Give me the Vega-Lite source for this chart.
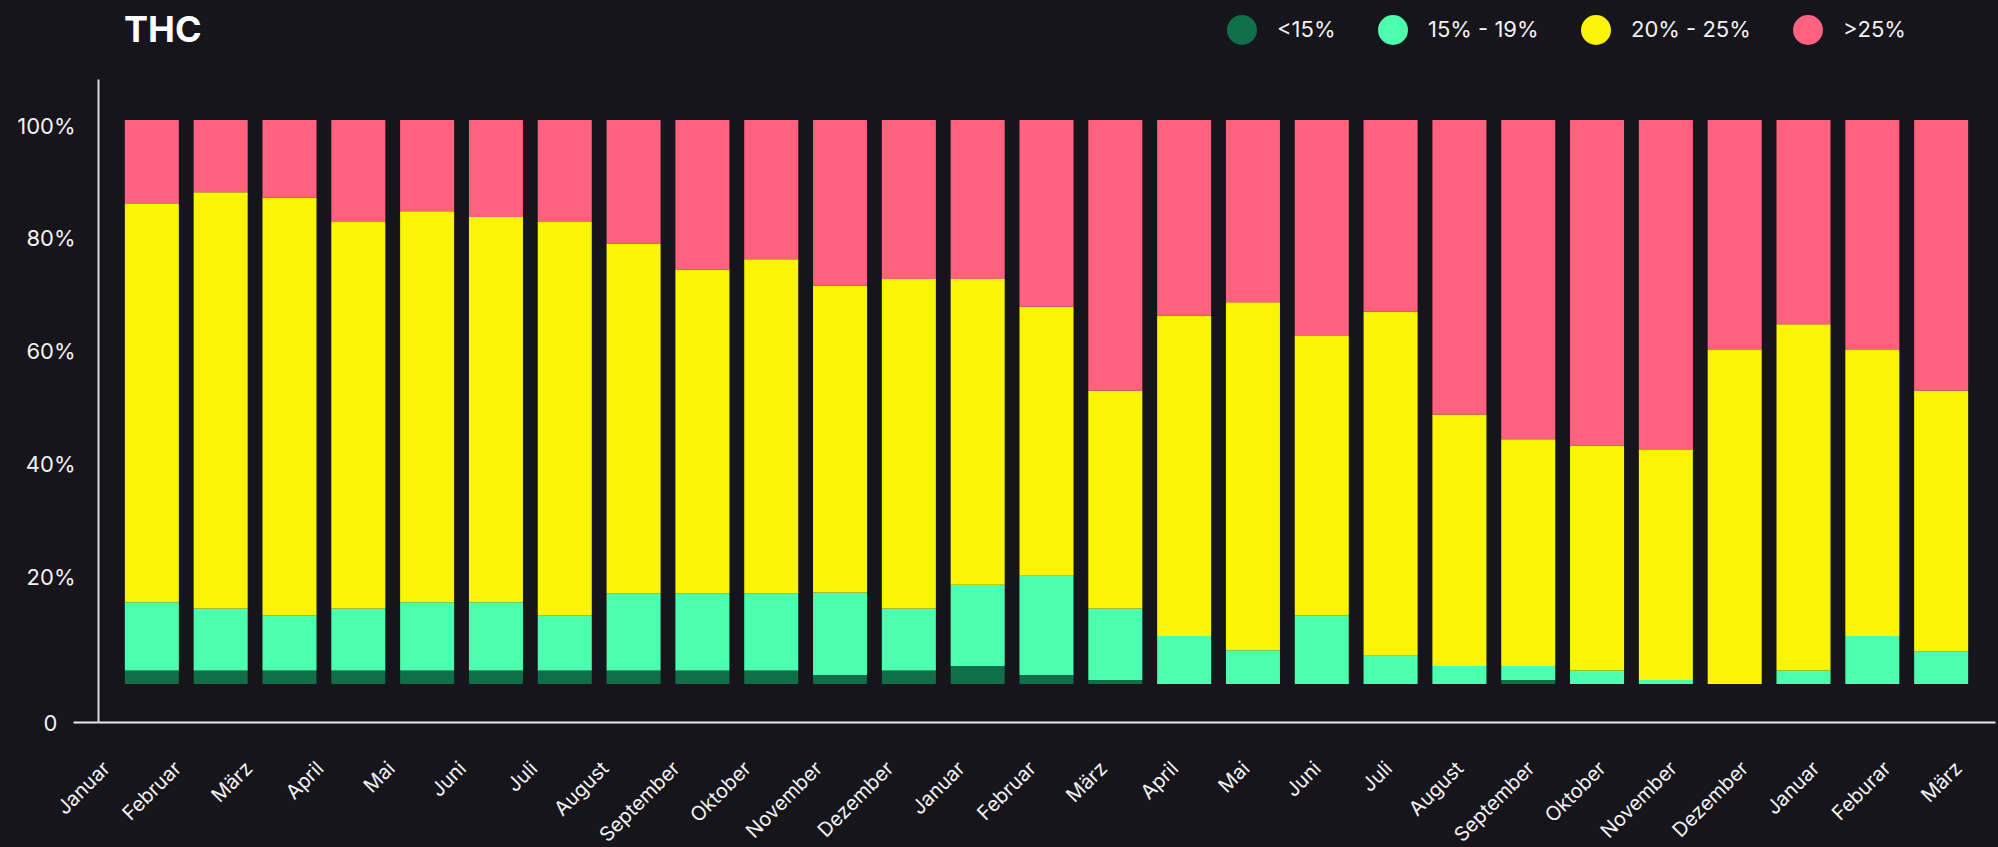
{
  "$schema": "https://vega.github.io/schema/vega-lite/v6.json",
  "background": "#16151b",
  "autosize": {"type": "none"},
  "padding": {"left": 98, "top": 79, "right": 3, "bottom": 125},
  "width": 1897,
  "height": 643,
  "title": {"text": "THC", "anchor": "start", "frame": "group", "font": "Inter", "fontSize": 36, "fontWeight": "bold", "color": "#ffffff", "dx": 26, "offset": -63, "baseline": "alphabetic"},
  "config": {"view": {"stroke": null}, "font": "Inter"},
  "data": {"values": [
    {"i":0,"k":"<15%","o":1,"v":2.4},{"i":0,"k":"15% - 19%","o":2,"v":12.1},{"i":0,"k":"20% - 25%","o":3,"v":70.6},{"i":0,"k":">25%","o":4,"v":14.9},
    {"i":1,"k":"<15%","o":1,"v":2.4},{"i":1,"k":"15% - 19%","o":2,"v":11.0},{"i":1,"k":"20% - 25%","o":3,"v":73.8},{"i":1,"k":">25%","o":4,"v":12.8},
    {"i":2,"k":"<15%","o":1,"v":2.4},{"i":2,"k":"15% - 19%","o":2,"v":9.8},{"i":2,"k":"20% - 25%","o":3,"v":74.0},{"i":2,"k":">25%","o":4,"v":13.8},
    {"i":3,"k":"<15%","o":1,"v":2.4},{"i":3,"k":"15% - 19%","o":2,"v":11.0},{"i":3,"k":"20% - 25%","o":3,"v":68.5},{"i":3,"k":">25%","o":4,"v":18.1},
    {"i":4,"k":"<15%","o":1,"v":2.4},{"i":4,"k":"15% - 19%","o":2,"v":12.1},{"i":4,"k":"20% - 25%","o":3,"v":69.3},{"i":4,"k":">25%","o":4,"v":16.2},
    {"i":5,"k":"<15%","o":1,"v":2.4},{"i":5,"k":"15% - 19%","o":2,"v":12.1},{"i":5,"k":"20% - 25%","o":3,"v":68.3},{"i":5,"k":">25%","o":4,"v":17.2},
    {"i":6,"k":"<15%","o":1,"v":2.4},{"i":6,"k":"15% - 19%","o":2,"v":9.8},{"i":6,"k":"20% - 25%","o":3,"v":69.7},{"i":6,"k":">25%","o":4,"v":18.1},
    {"i":7,"k":"<15%","o":1,"v":2.4},{"i":7,"k":"15% - 19%","o":2,"v":13.7},{"i":7,"k":"20% - 25%","o":3,"v":62.0},{"i":7,"k":">25%","o":4,"v":21.9},
    {"i":8,"k":"<15%","o":1,"v":2.4},{"i":8,"k":"15% - 19%","o":2,"v":13.7},{"i":8,"k":"20% - 25%","o":3,"v":57.4},{"i":8,"k":">25%","o":4,"v":26.5},
    {"i":9,"k":"<15%","o":1,"v":2.4},{"i":9,"k":"15% - 19%","o":2,"v":13.7},{"i":9,"k":"20% - 25%","o":3,"v":59.2},{"i":9,"k":">25%","o":4,"v":24.7},
    {"i":10,"k":"<15%","o":1,"v":1.6},{"i":10,"k":"15% - 19%","o":2,"v":14.6},{"i":10,"k":"20% - 25%","o":3,"v":54.4},{"i":10,"k":">25%","o":4,"v":29.4},
    {"i":11,"k":"<15%","o":1,"v":2.4},{"i":11,"k":"15% - 19%","o":2,"v":11.0},{"i":11,"k":"20% - 25%","o":3,"v":58.4},{"i":11,"k":">25%","o":4,"v":28.2},
    {"i":12,"k":"<15%","o":1,"v":3.2},{"i":12,"k":"15% - 19%","o":2,"v":14.4},{"i":12,"k":"20% - 25%","o":3,"v":54.2},{"i":12,"k":">25%","o":4,"v":28.2},
    {"i":13,"k":"<15%","o":1,"v":1.6},{"i":13,"k":"15% - 19%","o":2,"v":17.6},{"i":13,"k":"20% - 25%","o":3,"v":47.7},{"i":13,"k":">25%","o":4,"v":33.1},
    {"i":14,"k":"<15%","o":1,"v":0.7},{"i":14,"k":"15% - 19%","o":2,"v":12.7},{"i":14,"k":"20% - 25%","o":3,"v":38.6},{"i":14,"k":">25%","o":4,"v":48.0},
    {"i":15,"k":"15% - 19%","o":2,"v":8.5},{"i":15,"k":"20% - 25%","o":3,"v":56.8},{"i":15,"k":">25%","o":4,"v":34.7},
    {"i":16,"k":"15% - 19%","o":2,"v":6.0},{"i":16,"k":"20% - 25%","o":3,"v":61.7},{"i":16,"k":">25%","o":4,"v":32.3},
    {"i":17,"k":"15% - 19%","o":2,"v":12.2},{"i":17,"k":"20% - 25%","o":3,"v":49.5},{"i":17,"k":">25%","o":4,"v":38.3},
    {"i":18,"k":"15% - 19%","o":2,"v":5.0},{"i":18,"k":"20% - 25%","o":3,"v":61.0},{"i":18,"k":">25%","o":4,"v":34.0},
    {"i":19,"k":"15% - 19%","o":2,"v":3.2},{"i":19,"k":"20% - 25%","o":3,"v":44.6},{"i":19,"k":">25%","o":4,"v":52.2},
    {"i":20,"k":"<15%","o":1,"v":0.7},{"i":20,"k":"15% - 19%","o":2,"v":2.5},{"i":20,"k":"20% - 25%","o":3,"v":40.2},{"i":20,"k":">25%","o":4,"v":56.6},
    {"i":21,"k":"15% - 19%","o":2,"v":2.4},{"i":21,"k":"20% - 25%","o":3,"v":39.9},{"i":21,"k":">25%","o":4,"v":57.7},
    {"i":22,"k":"15% - 19%","o":2,"v":0.7},{"i":22,"k":"20% - 25%","o":3,"v":40.8},{"i":22,"k":">25%","o":4,"v":58.5},
    {"i":23,"k":"20% - 25%","o":3,"v":59.2},{"i":23,"k":">25%","o":4,"v":40.8},
    {"i":24,"k":"15% - 19%","o":2,"v":2.4},{"i":24,"k":"20% - 25%","o":3,"v":61.4},{"i":24,"k":">25%","o":4,"v":36.2},
    {"i":25,"k":"15% - 19%","o":2,"v":8.5},{"i":25,"k":"20% - 25%","o":3,"v":50.7},{"i":25,"k":">25%","o":4,"v":40.8},
    {"i":26,"k":"15% - 19%","o":2,"v":5.8},{"i":26,"k":"20% - 25%","o":3,"v":46.2},{"i":26,"k":">25%","o":4,"v":48.0}
  ]},
  "layer": [
    {
      "mark": {"type": "bar"},
      "encoding": {
        "x": {"field": "i", "type": "ordinal", "scale": {"paddingInner": 0.215, "paddingOuter": 0.39}, "axis": null},
        "y": {"field": "v", "type": "quantitative", "stack": "zero",
          "scale": {"domain": [-6.74, 107.27], "nice": false, "zero": false},
          "axis": {"title": null, "values": [-6.74, 20, 40, 60, 80, 100],
            "labelExpr": "datum.value < 0 ? '0' : datum.value + '%'",
            "grid": false, "domainColor": "#dcdcdc", "domainWidth": 2,
            "ticks": true, "tickSize": 25, "tickWidth": 2,
            "tickColor": {"condition": {"test": "datum.value < 0", "value": "#ececec"}, "value": "transparent"},
            "labelPadding": {"condition": {"test": "datum.value < 0", "value": 16}, "value": -2},
            "labelOffset": {"condition": {"test": "datum.value < 0", "value": 1}, "value": 6},
            "labelFont": "Inter", "labelFontSize": 22, "labelColor": "#f2f2f2"}},
        "color": {"field": "k", "type": "nominal",
          "scale": {"domain": ["<15%", "15% - 19%", "20% - 25%", ">25%"], "range": ["#0f6f48", "#4bffae", "#f9f505", "#ff617f"]},
          "legend": {"title": null, "orient": "none", "legendX": 1129, "legendY": -64, "direction": "horizontal",
            "symbolType": "circle", "symbolSize": 900, "symbolStrokeWidth": 0, "symbolOpacity": 1,
            "labelFont": "Inter", "labelFontSize": 22, "labelColor": "#f2f2f2", "labelOffset": 20,
            "columnPadding": 42, "padding": 0}},
        "order": {"field": "o", "type": "quantitative"}
      }
    },
    {
      "mark": {"type": "point", "opacity": 0},
      "encoding": {
        "x": {"field": "i", "type": "ordinal", "scale": {"type": "point", "padding": 0.316},
          "axis": {"orient": "bottom", "title": null, "labelAngle": -45, "labelAlign": "right", "labelBaseline": "middle",
            "labelExpr": "['Januar','Februar','März','April','Mai','Juni','Juli','August','September','Oktober','November','Dezember','Januar','Februar','März','April','Mai','Juni','Juli','August','September','Oktober','November','Dezember','Januar','Feburar','März'][datum.value]",
            "ticks": false, "domain": true, "domainColor": "#ececec", "domainWidth": 2,
            "labelPadding": 43, "labelOffset": -14, "labelFont": "Inter", "labelFontSize": 20, "labelColor": "#f2f2f2"}}
      }
    }
  ],
  "resolve": {"scale": {"x": "independent"}, "axis": {"x": "independent"}}
}
